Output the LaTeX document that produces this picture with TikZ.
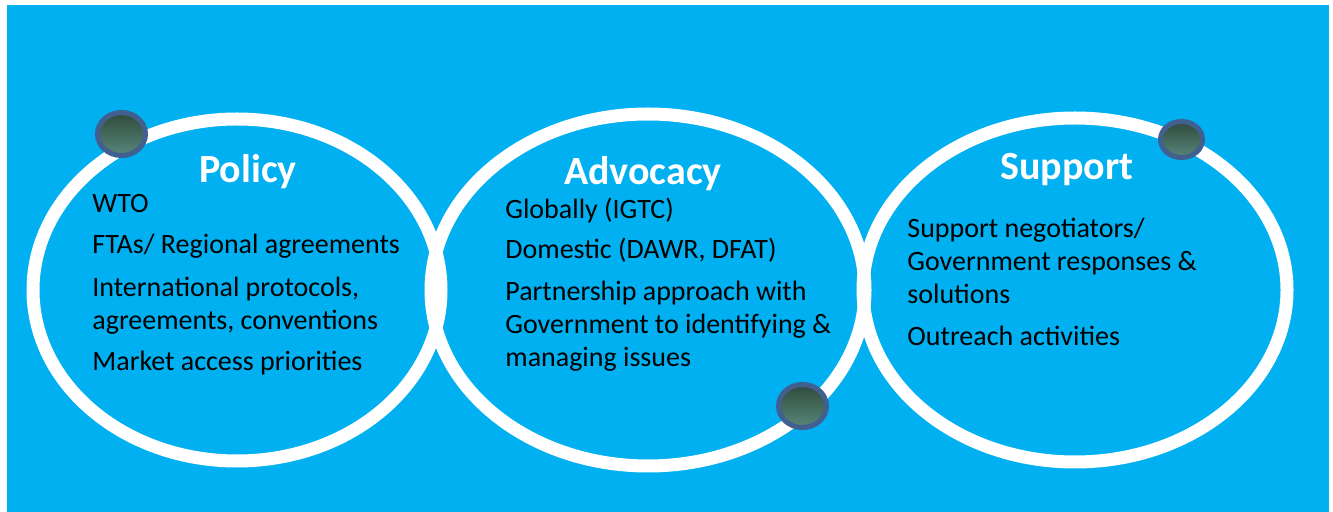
\documentclass[tikz,border=0pt]{standalone}
\usepackage{fontspec}
\setmainfont{Carlito}
\definecolor{skyblue}{HTML}{00B0F0}
\definecolor{dotrim}{HTML}{41608F}
\definecolor{dottop}{HTML}{2F4A3C}
\definecolor{dotbottom}{HTML}{58877A}
\tikzset{
  ring/.style={draw=white,line width=6.5pt},
  knob/.style={draw=dotrim,line width=2.5pt,top color=dottop,bottom color=dotbottom},
  heading/.style={anchor=base,text=white,font=\fontsize{20}{24}\selectfont\bfseries},
  item/.style={anchor=base west,align=left,inner sep=0pt,font=\fontsize{14}{16.5}\selectfont}
}
\begin{document}
\begin{tikzpicture}[x=0.5pt,y=-0.5pt]
  \useasboundingbox (0,0) rectangle (1333,512);
  \fill[skyblue] (7,5) rectangle (1329,512);
  % the three rings
  \draw[ring] (237,290) ellipse [x radius=204,y radius=171];
  \draw[ring] (648,290) ellipse [x radius=217,y radius=176];
  \draw[ring] (1075,290) ellipse [x radius=212,y radius=172];
  % knobs on the rings
  \draw[knob] (121.5,134) ellipse [x radius=24,y radius=21.5];
  \draw[knob] (802.5,406) ellipse [x radius=24,y radius=21.5];
  \draw[knob] (1181.5,139.5) ellipse [x radius=21,y radius=18];
  % headings
  \node[heading] (policy) at (248,183) {Policy};
  \node[heading] (advocacy) at (643,185) {Advocacy};
  \node[heading] (support) at (1067,180) {Support};
  % policy items (base = last line)
  \node[item] (wto) at (92,213) {WTO};
  \node[item] (fta) at (92,254) {FTAs/ Regional agreements};
  \node[item] (intl) at (92,330) {International protocols,\\agreements, conventions};
  \node[item] (market) at (92,371) {Market access priorities};
  % advocacy items
  \node[item] (global) at (505,219) {Globally (IGTC)};
  \node[item] (domestic) at (505,259) {Domestic (DAWR, DFAT)};
  \node[item] (partner) at (505,367) {Partnership approach with\\Government to identifying \&\\managing issues};
  % support items
  \node[item] (negot) at (907,304) {Support negotiators/\\Government responses \&\\solutions};
  \node[item] (outreach) at (907,346) {Outreach activities};
\end{tikzpicture}
\end{document}
